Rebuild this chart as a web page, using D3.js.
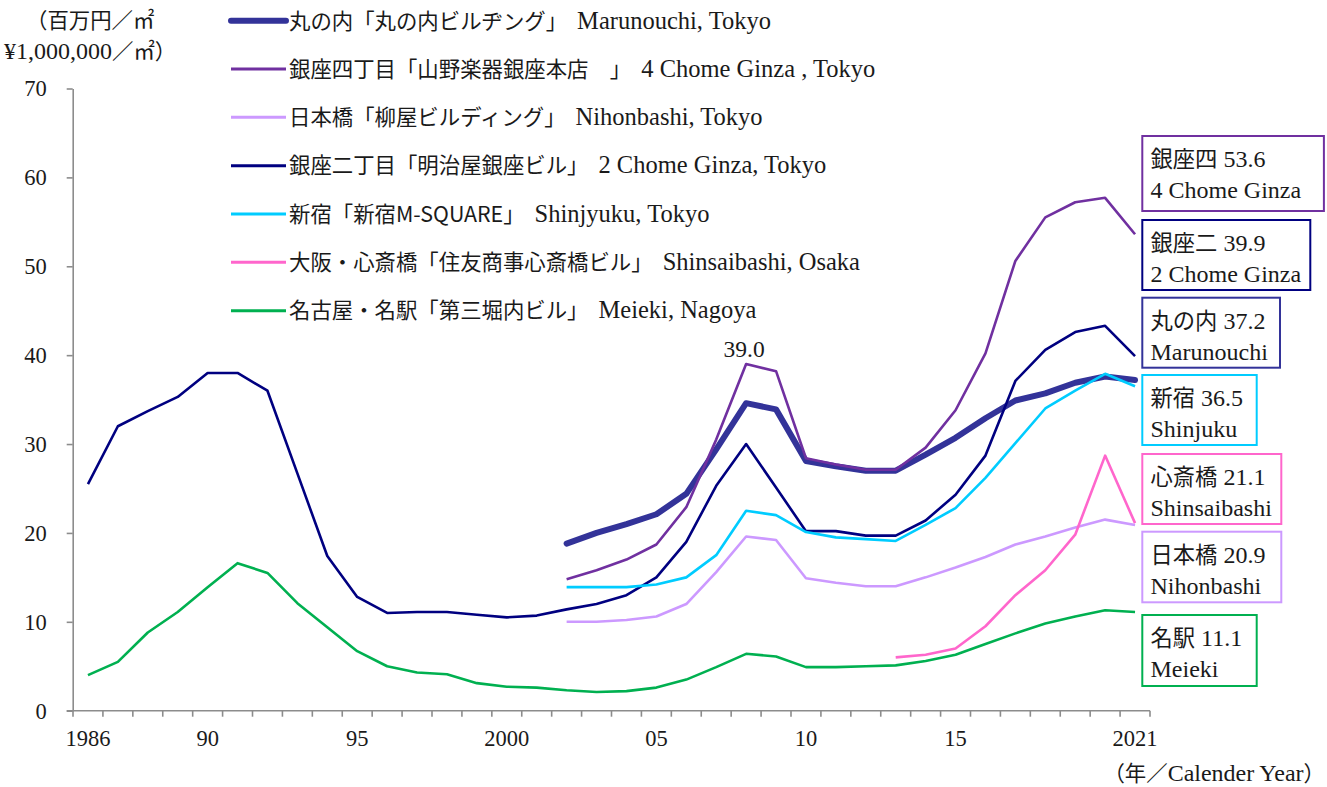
<!DOCTYPE html>
<html><head><meta charset="utf-8">
<script src="https://cdn.jsdelivr.net/npm/d3@7"></script>
<style>body{margin:0;background:#fff}svg{display:block}text{fill:#1a1a1a}</style>
</head><body>
<svg id="c" width="1327" height="787"></svg>
<script>
// ---------- DATA ----------
const years = [1986,1987,1988,1989,1990,1991,1992,1993,1994,1995,1996,1997,1998,1999,2000,2001,2002,2003,2004,2005,2006,2007,2008,2009,2010,2011,2012,2013,2014,2015,2016,2017,2018,2019,2020,2021];
const _ = null;
const marunouchi   = [_,_,_,_,_,_,_,_,_,_,_,_,_,_,_,_, 18.8,20.0,21.0,22.1,24.4,29.4,34.6,33.9,28.1,27.5,27.0,27.0,28.8,30.7,32.9,34.9,35.7,36.9,37.6,37.2];
const ginza4       = [_,_,_,_,_,_,_,_,_,_,_,_,_,_,_,_, 14.8,15.8,17.0,18.7,22.9,30.5,39.0,38.2,28.4,27.7,27.1,27.1,29.6,33.8,40.2,50.6,55.5,57.2,57.7,53.6];
const nihonbashi   = [_,_,_,_,_,_,_,_,_,_,_,_,_,_,_,_, 10.0,10.0,10.2,10.6,12.0,15.6,19.6,19.2,14.9,14.4,14.0,14.0,15.0,16.1,17.3,18.7,19.6,20.6,21.5,20.9];
const ginza2       = [25.5,32.0,33.7,35.3,38.0,38.0,36.0,26.7,17.4,12.8,11.0,11.1,11.1,10.8,10.5,10.7,11.4,12.0,13.0,15.0,19.0,25.3,30.0,25.1,20.2,20.2,19.7,19.7,21.4,24.3,28.7,37.1,40.6,42.6,43.3,39.9];
const shinjuku     = [_,_,_,_,_,_,_,_,_,_,_,_,_,_,_,_, 13.9,13.9,13.9,14.2,15.0,17.5,22.5,22.0,20.1,19.5,19.3,19.1,20.9,22.8,26.2,30.1,34.0,36.0,37.9,36.5];
const shinsaibashi = [_,_,_,_,_,_,_,_,_,_,_,_,_,_,_,_,_,_,_,_,_,_,_,_,_,_,_, 6.0,6.3,7.0,9.5,13.0,15.8,19.8,28.7,21.1];
const meieki       = [4.0,5.5,8.8,11.1,13.9,16.6,15.5,12.1,9.4,6.7,5.0,4.3,4.1,3.1,2.7,2.6,2.3,2.1,2.2,2.6,3.5,4.9,6.4,6.1,4.9,4.9,5.0,5.1,5.6,6.3,7.5,8.7,9.8,10.6,11.3,11.1];

const seriesValues = [marunouchi, ginza4, nihonbashi, ginza2, shinjuku, shinsaibashi, meieki];
const legendJa = ["丸の内「丸の内ビルヂング」","銀座四丁目「山野楽器銀座本店　」","日本橋「柳屋ビルディング」","銀座二丁目「明治屋銀座ビル」","新宿「新宿M-SQUARE」","大阪・心斎橋「住友商事心斎橋ビル」","名古屋・名駅「第三堀内ビル」"];
const legendEn = ["Marunouchi, Tokyo","4 Chome Ginza , Tokyo","Nihonbashi, Tokyo","2 Chome Ginza, Tokyo","Shinjyuku, Tokyo","Shinsaibashi, Osaka","Meieki, Nagoya"];
const shortJa = ["丸の内","銀座四","日本橋","銀座二","新宿","心斎橋","名駅"];
const shortEn = ["Marunouchi","4 Chome Ginza","Nihonbashi","2 Chome Ginza","Shinjuku","Shinsaibashi","Meieki"];
const colors = ["#333399","#7030A0","#CC99FF","#000080","#00CCFF","#FF66CC","#00B050"];
const widths = [6,2.6,2.6,2.6,2.6,2.6,2.6];

const yTicks = [0,10,20,30,40,50,60,70];
const xTickYears  = [1986,1990,1995,2000,2005,2010,2015,2021];
const xTickLabels = ["1986","90","95","2000","05","10","15","2021"];
const peakYear = 2008; // labelled peak of 銀座四

// ---------- LAYOUT ----------
const JP = '"Noto Sans CJK JP","Noto Sans CJK SC",sans-serif';
const LAT = '"Liberation Serif","DejaVu Serif",serif';
const svg = d3.select('#c');
const x = d3.scaleBand().domain(years).range([73, 1150]);
const cx = yr => x(yr) + x.bandwidth()/2;
const y = d3.scaleLinear().domain([0,70]).range([710.7, 88.5]);
const axisCol = "#8c8c8c";

// Y axis
const ya = svg.append('g').attr('transform','translate(72.7,0)')
  .call(d3.axisLeft(y).tickValues(yTicks).tickSize(6).tickSizeOuter(0).tickPadding(20));
ya.select('.domain').attr('stroke',axisCol).attr('stroke-width',1.6);
ya.selectAll('.tick line').attr('stroke',axisCol).attr('stroke-width',1.6);
ya.selectAll('.tick text').attr('font-family',LAT).attr('font-size',22.5).attr('fill','#1a1a1a').attr('dy','0.33em');

// X axis
const xa = svg.append('g').attr('transform','translate(0,710.7)')
  .call(d3.axisBottom(x).tickValues(xTickYears).tickSize(0).tickSizeOuter(0)
    .tickFormat(d => xTickLabels[xTickYears.indexOf(d)]));
xa.select('.domain').remove();
xa.selectAll('.tick text').attr('font-family',LAT).attr('font-size',22.5).attr('fill','#1a1a1a').attr('y',35).attr('dy',0);
svg.append('line').attr('x1',66.7).attr('x2',x.range()[1]).attr('y1',y(0)).attr('y2',y(0))
  .attr('stroke',axisCol).attr('stroke-width',1.6);
const bounds = years.map(d => x(d)).concat([x.range()[1]]);
svg.append('g').selectAll('line').data(bounds).join('line')
  .attr('x1',d=>d).attr('x2',d=>d).attr('y1',y(0)).attr('y2',y(0)+6)
  .attr('stroke',axisCol).attr('stroke-width',1.6);

// Lines
const line = d3.line().defined(d => d != null).x((d,i) => cx(years[i])).y(d => y(d));
seriesValues.forEach((vals,k) => {
  svg.append('path').datum(vals).attr('d',line).attr('fill','none')
    .attr('stroke',colors[k]).attr('stroke-width',widths[k])
    .attr('stroke-linejoin','round').attr('stroke-linecap', k===0?'round':'butt');
});

// Peak label
const pi = years.indexOf(peakYear);
svg.append('text').attr('x',cx(peakYear)-2).attr('y',y(ginza4[pi])-7).attr('text-anchor','middle')
  .attr('font-family',LAT).attr('font-size',23.5).text(d3.format('.1f')(ginza4[pi]));

// Legend
legendJa.forEach((lab,k) => {
  const cy = 20.7 + k*48.33;
  svg.append('line').attr('x1',231).attr('x2',286).attr('y1',cy).attr('y2',cy)
    .attr('stroke',colors[k]).attr('stroke-width',k===0?6:3).attr('stroke-linecap',k===0?'round':'butt');
  const t = svg.append('text').attr('x',289).attr('y',cy+7.8);
  t.append('tspan').attr('font-family',JP).attr('font-size',21.4).text(lab);
  t.append('tspan').attr('font-family',LAT).attr('font-size',24.5).attr('dx',10).text(legendEn[k]);
});

// Y title
const t1 = svg.append('text').attr('x',26).attr('y',28);
t1.append('tspan').attr('font-family',JP).attr('font-size',21.4).text('（百万円／㎡');
const t2 = svg.append('text').attr('x',4).attr('y',59);
t2.append('tspan').attr('font-family',LAT).attr('font-size',24).text('¥1,000,000');
t2.append('tspan').attr('font-family',JP).attr('font-size',21.4).text('／㎡）');

// X title
const t3 = svg.append('text').attr('x',1325).attr('y',781).attr('text-anchor','end');
t3.append('tspan').attr('font-family',JP).attr('font-size',21.4).text('（年／');
t3.append('tspan').attr('font-family',LAT).attr('font-size',24).text('Calender Year');
t3.append('tspan').attr('font-family',JP).attr('font-size',21.4).text('）');

// End boxes (order top to bottom)
const boxOrder = [1,3,0,4,5,2,6];
const boxTop = [136,220,297.7,375,454,531.7,615];
const boxH   = [75,70,70,70,70,70.6,71];
const boxW   = [181.6,168,137.7,114.4,139,139,114.4];
boxOrder.forEach((k,j) => {
  const g = svg.append('g');
  const last = seriesValues[k][seriesValues[k].length-1];
  g.append('rect').attr('x',1142.3).attr('y',boxTop[j]).attr('width',boxW[j]).attr('height',boxH[j])
    .attr('fill','#fff').attr('stroke',colors[k]).attr('stroke-width',2);
  const a = g.append('text').attr('x',1150.5).attr('y',boxTop[j]+31);
  a.append('tspan').attr('font-family',JP).attr('font-size',22.3).text(shortJa[k]);
  a.append('tspan').attr('font-family',LAT).attr('font-size',24).attr('dx',6).text(d3.format('.1f')(last));
  g.append('text').attr('x',1150.5).attr('y',boxTop[j]+62).attr('font-family',LAT).attr('font-size',24).text(shortEn[k]);
});
</script>
</body></html>
